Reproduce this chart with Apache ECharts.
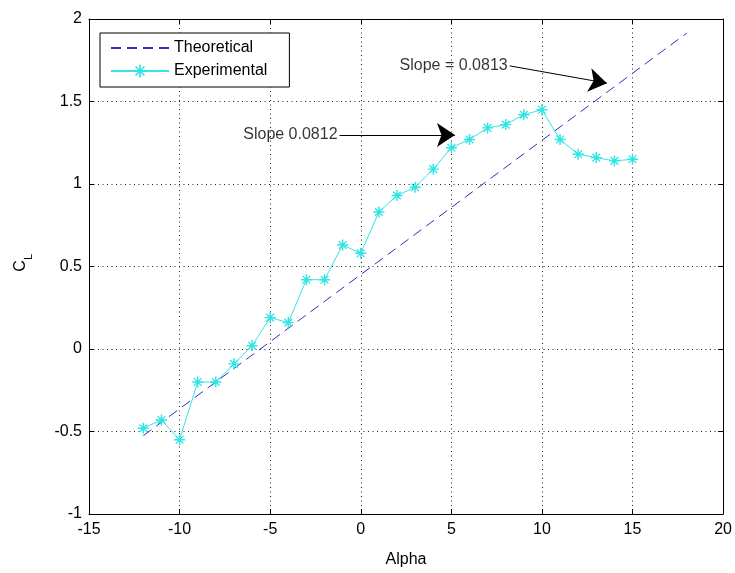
<!DOCTYPE html>
<html>
<head>
<meta charset="utf-8">
<script src="https://cdn.jsdelivr.net/npm/echarts@6/dist/echarts.min.js"></script>
<style>
  html, body { margin: 0; padding: 0; background: #fff; }
  #chart { width: 735px; height: 573px; }
</style>
</head>
<body>
<div id="chart"></div>
<script>
// Angle of attack (deg) for the wind-tunnel runs
const alpha = [-12, -11, -10, -9, -8, -7, -6, -5, -4, -3, -2, -1, 0, 1, 2, 3, 4, 5, 6, 7, 8, 9, 10, 11, 12, 13, 14, 15];
// Measured lift coefficient
const clExperimental = [-0.48, -0.43, -0.55, -0.20, -0.20, -0.09, 0.02, 0.19, 0.16, 0.42, 0.42, 0.63, 0.58,
                        0.83, 0.93, 0.98, 1.09, 1.22, 1.27, 1.34, 1.36, 1.42, 1.45, 1.27, 1.18, 1.16, 1.14, 1.15];
// Thin-airfoil prediction (straight line), endpoints
const alphaTheory = [-12, 18];
const clTheory = [-0.525, 1.915];

// Axis ticks
const xTicks = { min: -15, max: 20, step: 5 };
const yTicks = { min: -1, max: 2, step: 0.5 };

// Slope annotations: label, arrow start, arrow tip
const noteLabels = ['Slope = 0.0813', 'Slope 0.0812'];
const noteStart = [[8.22, 1.716], [-1.17, 1.297]];
const noteTip = [[13.59, 1.611], [5.2, 1.297]];

const FONT = 'Liberation Sans, Arial, Helvetica, sans-serif';

// Asterisk marker built from four thin bars
const asterisk = 'path://M-0.65,-5L0.65,-5L0.65,5L-0.65,5Z' +
  'M-5,-0.65L5,-0.65L5,0.65L-5,0.65Z' +
  'M-3.08,-3.92L3.92,3.08L3.08,3.92L-3.92,-3.08Z' +
  'M3.92,-3.08L-3.08,3.92L-3.92,3.08L3.08,-3.92Z';

const chart = echarts.init(document.getElementById('chart'));

const dotted = { show: true, lineStyle: { color: '#222', width: 1, type: [1, 3.5] } };
const baseX = {
  type: 'value', min: xTicks.min, max: xTicks.max, interval: xTicks.step,
  axisLine: { show: true, onZero: false, lineStyle: { color: '#000', width: 1 } },
  axisTick: { show: true, inside: true, length: 5, lineStyle: { color: '#000' } }
};
const baseY = {
  type: 'value', min: yTicks.min, max: yTicks.max, interval: yTicks.step,
  axisLine: { show: true, onZero: false, lineStyle: { color: '#000', width: 1 } },
  axisTick: { show: true, inside: true, length: 5, lineStyle: { color: '#000' } }
};

chart.setOption({
  backgroundColor: '#fff',
  animation: false,
  grid: { left: 89, right: 9, top: 19, bottom: 55, containLabel: false },
  xAxis: [
    Object.assign({}, baseX, {
      position: 'bottom',
      name: 'Alpha', nameLocation: 'middle', nameGap: 38,
      nameTextStyle: { color: '#000', fontSize: 16, fontFamily: FONT },
      axisLabel: { color: '#000', fontSize: 16, fontFamily: FONT, margin: 8 },
      splitLine: dotted
    }),
    Object.assign({}, baseX, { position: 'top', axisLabel: { show: false }, splitLine: { show: false } })
  ],
  yAxis: [
    Object.assign({}, baseY, {
      position: 'left',
      axisLabel: { color: '#000', fontSize: 16, fontFamily: FONT, margin: 7 },
      splitLine: dotted
    }),
    Object.assign({}, baseY, { position: 'right', axisLabel: { show: false }, splitLine: { show: false } })
  ],
  legend: {
    data: [
      { name: 'Theoretical', itemStyle: { opacity: 0 } },
      { name: 'Experimental' }
    ],
    orient: 'vertical',
    left: 100, top: 33,
    padding: [7, 22, 8, 10],
    itemWidth: 58, itemHeight: 16, itemGap: 7,
    backgroundColor: '#fff',
    borderColor: '#000', borderWidth: 1, borderRadius: 0,
    textStyle: { color: '#000', fontSize: 16, fontFamily: FONT }
  },
  series: [
    {
      name: 'Theoretical', type: 'line',
      data: alphaTheory.map((a, i) => [a, clTheory[i]]),
      showSymbol: false, symbol: 'none',
      lineStyle: { color: '#2f2fc4', width: 1, type: [10, 6] },
      itemStyle: { color: '#2f2fc4' },
      z: 3
    },
    {
      name: 'Experimental', type: 'line',
      data: alpha.map((a, i) => [a, clExperimental[i]]),
      symbol: asterisk, symbolSize: 11,
      lineStyle: { color: '#33e6e6', width: 1 },
      itemStyle: { color: '#2ee4e4' },
      z: 4
    },
    {
      name: 'arrows', type: 'lines', coordinateSystem: 'cartesian2d',
      data: noteStart.map((s, i) => ({ coords: [s, noteTip[i]] })),
      symbol: ['none', 'arrow'], symbolSize: [12, 18],
      lineStyle: { color: '#000', width: 1, opacity: 1, curveness: 0 },
      z: 5
    },
    {
      name: 'notes', type: 'scatter',
      data: noteStart.map((s, i) => ({ value: s, label: { formatter: noteLabels[i] } })),
      symbolSize: 0,
      label: { show: true, position: 'left', distance: 2, color: '#000', fontSize: 16, fontFamily: FONT },
      silent: true,
      z: 6
    }
  ],
  graphic: [
    {
      type: 'group', x: 21, y: 266, rotation: Math.PI / 2,
      children: [
        { type: 'text', x: 0, y: 0,
          style: { text: 'C', font: '16px ' + FONT, fill: '#000', align: 'center', verticalAlign: 'middle' } },
        { type: 'text', x: 9, y: 8,
          style: { text: 'L', font: '11px ' + FONT, fill: '#000', align: 'center', verticalAlign: 'middle' } }
      ]
    }
  ]
});
</script>
</body>
</html>
